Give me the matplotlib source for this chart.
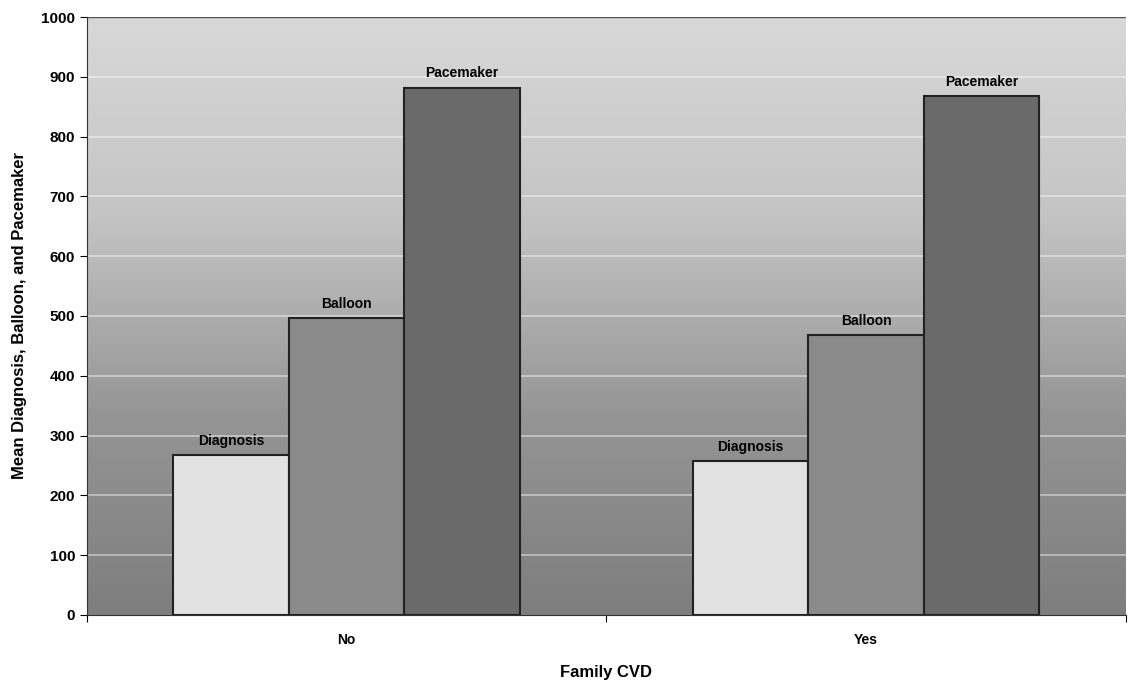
import numpy as np
import matplotlib.pyplot as plt
from matplotlib.colors import LinearSegmentedColormap

plt.rcParams['font.family'] = ['Liberation Sans', 'DejaVu Sans']

groups = ['No', 'Yes']
series = ['Diagnosis', 'Balloon', 'Pacemaker']
diagnosis = [268, 258]
balloon = [497, 468]
pacemaker = [882, 868]
values = [diagnosis, balloon, pacemaker]
colors = ['#e2e2e2', '#8a8a8a', '#6a6a6a']

fig = plt.figure(figsize=(11.28, 6.81), dpi=100)
ax = fig.add_axes([0.077, 0.097, 0.921, 0.878])

# scanned-looking grey background: light at top, dark at bottom
bg = LinearSegmentedColormap.from_list('bg', ['#7e7e7e', '#959595', '#c4c4c4', '#d8d8d8'])
grad = np.linspace(0, 1, 256).reshape(-1, 1)
ax.imshow(grad, cmap=bg, aspect='auto', extent=[0, 2, 0, 1000], origin='lower', zorder=0)

for y in range(100, 1000, 100):
    ax.axhline(y, color='white', lw=1.2, alpha=0.5, zorder=1)

x = np.arange(len(groups)) + 0.5
w = 1 / 4.5
for i, (name, vals) in enumerate(zip(series, values)):
    xs = x + (i - 1) * w
    ax.bar(xs, vals, width=w, color=colors[i], edgecolor='#222222', lw=1.5, zorder=2)
    for xi, v in zip(xs, vals):
        ax.text(xi, v + 12, name, ha='center', va='bottom', fontsize=10, fontweight='bold', zorder=3)

ax.set_xlim(0, 2)
ax.set_ylim(0, 1000)
ax.set_yticks(range(0, 1001, 100))
ax.set_xticks([0, 1, 2])
ax.set_xticklabels([])
ax.set_xticks(x, minor=True)
ax.set_xticklabels(groups, minor=True, fontsize=10, fontweight='bold')
ax.tick_params(axis='x', which='minor', length=0, pad=13)
ax.tick_params(axis='x', which='major', length=5, direction='out')
ax.tick_params(axis='y', labelsize=11, length=5)
for lbl in ax.get_yticklabels():
    lbl.set_fontweight('bold')

for side in ['top', 'right']:
    ax.spines[side].set_visible(False)
ax.spines['left'].set_color('#333333')
ax.spines['bottom'].set_color('#333333')
ax.axhline(1000, color='#555555', lw=1, zorder=1)

fig.text(0.537, 0.013, 'Family CVD', ha='center', va='center', fontsize=12, fontweight='bold')
ax.set_ylabel('Mean Diagnosis, Balloon, and Pacemaker', fontsize=12, fontweight='bold', labelpad=10)

fig.savefig('out.png', dpi=100, facecolor='white')
